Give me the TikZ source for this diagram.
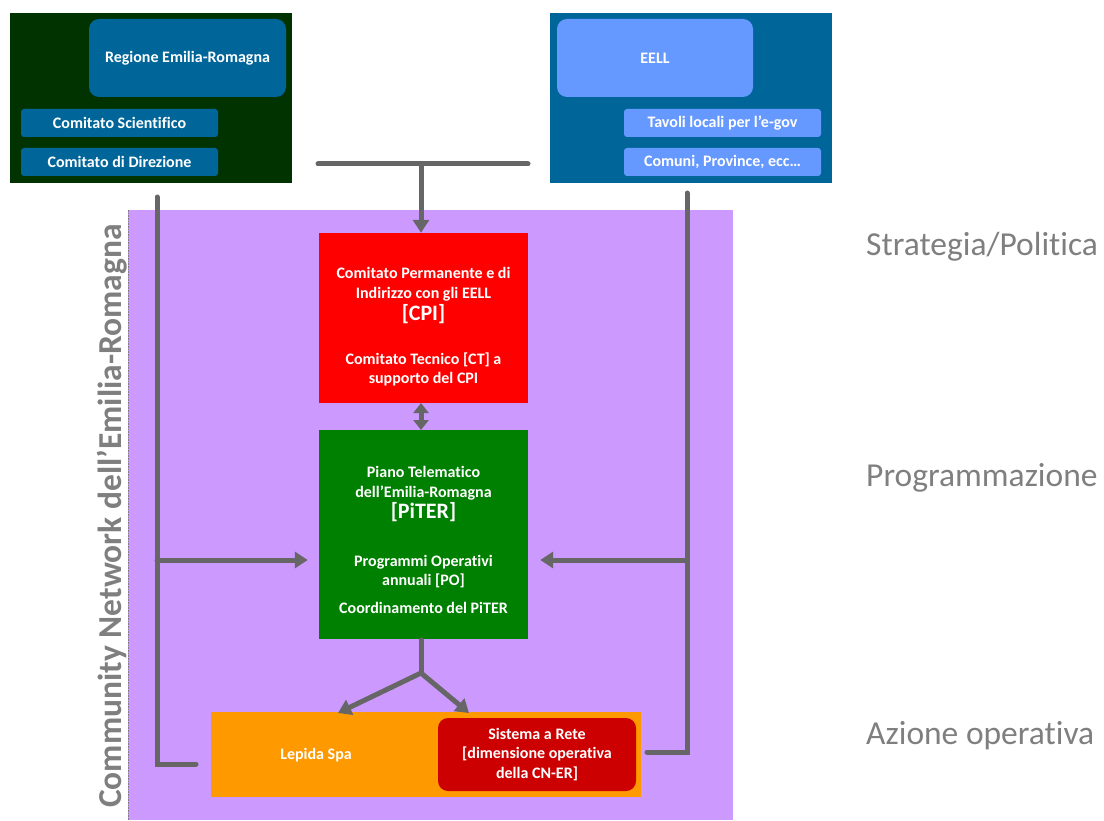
\documentclass[tikz,border=0pt]{standalone}
\usepackage{fontspec}
\setmainfont{Carlito}[Ligatures=NoCommon]
\usetikzlibrary{arrows.meta}
\definecolor{dkgreen}{HTML}{003300}
\definecolor{blu}{HTML}{006699}
\definecolor{lblu}{HTML}{6699FF}
\definecolor{purp}{HTML}{CC99FF}
\definecolor{grn}{HTML}{008000}
\definecolor{org}{HTML}{FF9900}
\definecolor{dred}{HTML}{CC0000}
\definecolor{lgray}{HTML}{666666}
\definecolor{lbl}{HTML}{7F7F7F}
\begin{document}
\begin{tikzpicture}[x=1pt,y=-1pt,
  panel/.style={rectangle, inner sep=0pt, draw=none},
  txt/.style={inner sep=0pt, text=white, align=center, font=\bfseries\fontsize{16}{19.5}\selectfont},
  conn/.style={draw=lgray, line width=5pt, line cap=round},
  arr/.style={conn, -{Triangle[width=16pt,length=13pt]}},
  darr/.style={conn, {Triangle[width=15pt,length=10pt]}-{Triangle[width=15pt,length=10pt]}},
  lvl/.style={text=lbl, font=\fontsize{33.5}{36}\selectfont, inner sep=0pt, anchor=west}
]
\useasboundingbox (0,0) rectangle (1104,821);
% top panels
\node[panel, fill=dkgreen, minimum width=282pt, minimum height=170pt] (lpanel) at (151,98) {};
\node[panel, fill=blu, rounded corners=10pt, minimum width=197pt, minimum height=78pt, txt] (reg) at (187.5,58) {Regione Emilia-Romagna};
\node[panel, fill=blu, rounded corners=3pt, minimum width=197pt, minimum height=28pt, txt] (csci) at (119.5,123) {Comitato Scientifico};
\node[panel, fill=blu, rounded corners=3pt, minimum width=197pt, minimum height=28pt, txt] (cdir) at (119.5,162) {Comitato di Direzione};

\node[panel, fill=blu, minimum width=282pt, minimum height=170pt] (rpanel) at (691,98) {};
\node[panel, fill=lblu, rounded corners=10pt, minimum width=196pt, minimum height=78pt, txt] (eell) at (655,58) {EELL};
\node[panel, fill=lblu, rounded corners=3pt, minimum width=197pt, minimum height=28pt, txt] (tav) at (722.5,123) {Tavoli locali per l’e-gov};
\node[panel, fill=lblu, rounded corners=3pt, minimum width=197pt, minimum height=28pt, txt] (com) at (722.5,162) {Comuni, Province, ecc…};

% purple community area
\node[panel, fill=purp, minimum width=605pt, minimum height=610pt] (cn) at (430.5,515) {};
\draw[lbl, densely dotted, line width=0.6pt] (cn.north west) -- (cn.south west);
\node[rotate=90, text=lbl, font=\bfseries\fontsize{33.5}{36}\selectfont, inner sep=0pt] (cnlab) at (112,516) {Community Network dell’Emilia-Romagna};

% red
\node[panel, fill=red, minimum width=209pt, minimum height=170pt] (cpi) at (423.5,318) {};
\node[txt] (cpitxt) at (423.5,327) {Comitato Permanente e di\\Indirizzo con gli EELL\\[3pt]{\fontsize{22}{24}\selectfont [CPI]}\\[24pt]Comitato Tecnico [CT] a\\supporto del CPI};

% green
\node[panel, fill=grn, minimum width=209pt, minimum height=209pt] (piter) at (423.5,534.5) {};
\node[txt] (pitertxt) at (423.5,540) {Piano Telematico\\dell’Emilia-Romagna\\[2pt]{\fontsize{22}{24}\selectfont [PiTER]}\\[28pt]Programmi Operativi\\annuali [PO]\\[8pt]Coordinamento del PiTER};

% orange
\node[panel, fill=org, minimum width=430pt, minimum height=85pt] (lep) at (426,754.5) {};
\node[txt] (leptxt) at (316,755) {Lepida Spa};
\node[panel, fill=dred, rounded corners=10pt, minimum width=198pt, minimum height=73pt, txt] (rete) at (537,754.5) {Sistema a Rete\\{}[dimensione operativa\\della CN-ER]};

% level labels
\node[lvl] (l1) at (866,247) {Strategia/Politica};
\node[lvl] (l2) at (866,478) {Programmazione};
\node[lvl] (l3) at (866,736) {Azione operativa};

% connectors
\coordinate (tl) at (318,164);
\coordinate (tr) at (528,164);
\coordinate (tm) at (421,164);
\draw[conn] (tl) -- (tr);
\draw[arr] (tm) -- (tm |- cpi.north);
\draw[darr] (421,403) -- (421,430);

\coordinate (lt) at (157,197);
\coordinate (lb) at (157,764);
\coordinate (le) at (196,764);
\coordinate (la) at (157,560);
\draw[conn] (lt) -- (lb) -- (le);
\draw[arr, shorten >=11pt] (la) -- (la -| piter.west);

\coordinate (rt) at (687,193);
\coordinate (rb) at (687,752);
\coordinate (re) at (647,752);
\coordinate (ra) at (687,560);
\draw[conn] (rt) -- (rb) -- (re);
\draw[arr, shorten >=12pt] (ra) -- (ra -| piter.east);

\coordinate (bs) at (421,640);
\coordinate (bj) at (421,673);
\coordinate (bl) at (338,713);
\coordinate (br) at (469,713);
\draw[conn] (bs) -- (bj);
\draw[arr] (bj) -- (bl);
\draw[arr] (bj) -- (br);
\end{tikzpicture}
\end{document}
